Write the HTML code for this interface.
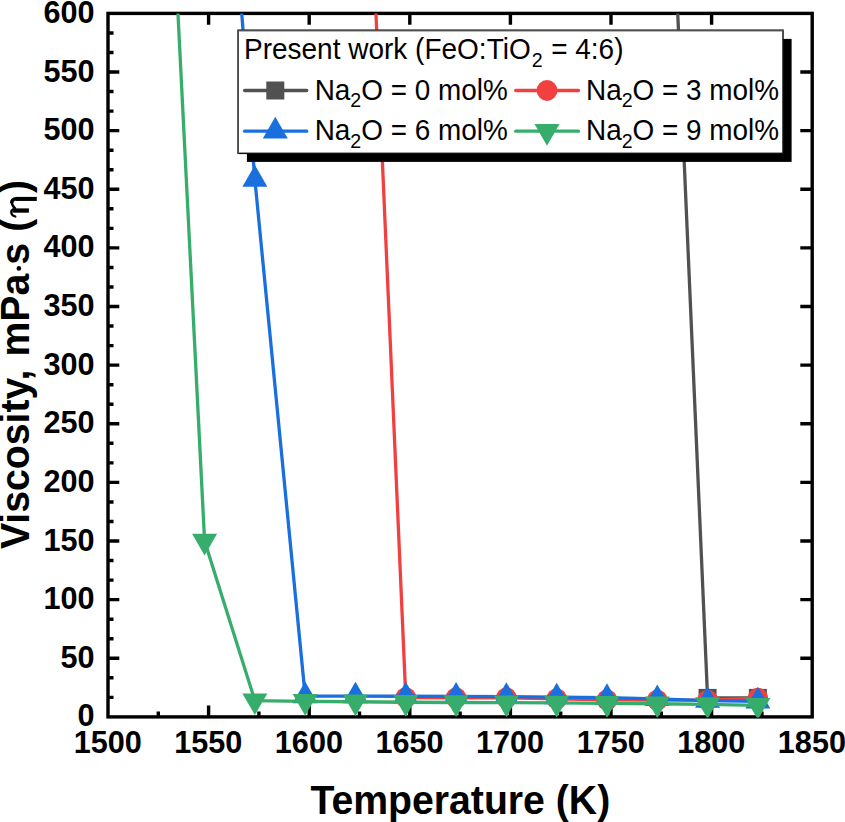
<!DOCTYPE html>
<html><head><meta charset="utf-8"><title>Viscosity vs Temperature</title>
<style>
html,body{margin:0;padding:0;background:#fff;}
body{width:845px;height:822px;overflow:hidden;}
svg{display:block;font-family:"Liberation Sans",sans-serif;}
</style></head>
<body>
<svg width="845" height="822" viewBox="0 0 845 822">
<defs><clipPath id="cp"><rect x="108.00" y="13.40" width="704.20" height="704.00"/></clipPath></defs>
<rect width="845" height="822" fill="#fff"/>
<rect x="108.00" y="13.40" width="704.20" height="703.50" fill="none" stroke="#000" stroke-width="3.40"/>
<path d="M158.30 716.90V711.40M208.60 716.90V705.60M208.60 13.40V24.70M258.90 716.90V711.40M309.20 716.90V705.60M309.20 13.40V24.70M359.50 716.90V711.40M409.80 716.90V705.60M409.80 13.40V24.70M460.10 716.90V711.40M510.40 716.90V705.60M510.40 13.40V24.70M560.70 716.90V711.40M611.00 716.90V705.60M611.00 13.40V24.70M661.30 716.90V711.40M711.60 716.90V705.60M711.60 13.40V24.70M761.90 716.90V711.40M108.00 697.36H113.50M108.00 677.82H113.50M108.00 658.27H119.30M812.20 658.27H800.30M108.00 638.73H113.50M108.00 619.19H113.50M108.00 599.65H119.30M812.20 599.65H800.30M108.00 580.11H113.50M108.00 560.57H113.50M108.00 541.02H119.30M812.20 541.02H800.30M108.00 521.48H113.50M108.00 501.94H113.50M108.00 482.40H119.30M812.20 482.40H800.30M108.00 462.86H113.50M108.00 443.32H113.50M108.00 423.77H119.30M812.20 423.77H800.30M108.00 404.23H113.50M108.00 384.69H113.50M108.00 365.15H119.30M812.20 365.15H800.30M108.00 345.61H113.50M108.00 326.07H113.50M108.00 306.52H119.30M812.20 306.52H800.30M108.00 286.98H113.50M108.00 267.44H113.50M108.00 247.90H119.30M812.20 247.90H800.30M108.00 228.36H113.50M108.00 208.82H113.50M108.00 189.27H119.30M812.20 189.27H800.30M108.00 169.73H113.50M108.00 150.19H113.50M108.00 130.65H119.30M812.20 130.65H800.30M108.00 111.11H113.50M108.00 91.57H113.50M108.00 72.02H119.30M812.20 72.02H800.30M108.00 52.48H113.50M108.00 32.94H113.50" stroke="#000" stroke-width="3.40" fill="none"/>
<g clip-path="url(#cp)">
<polyline points="757.88,697.91 707.58,697.91 657.28,-455.60" fill="none" stroke="#515151" stroke-width="3.30" stroke-linejoin="round"/>
<rect x="748.88" y="688.91" width="18.00" height="18.00" fill="#515151"/>
<rect x="698.58" y="688.91" width="18.00" height="18.00" fill="#515151"/>
<polyline points="757.88,698.26 707.58,700.13 657.28,700.13 606.98,699.78 556.68,698.84 506.38,697.91 456.08,697.79 405.78,697.67 355.48,-455.60" fill="none" stroke="#F14040" stroke-width="3.30" stroke-linejoin="round"/>
<circle cx="757.88" cy="698.26" r="10.40" fill="#F14040"/>
<circle cx="707.58" cy="700.13" r="10.40" fill="#F14040"/>
<circle cx="657.28" cy="700.13" r="10.40" fill="#F14040"/>
<circle cx="606.98" cy="699.78" r="10.40" fill="#F14040"/>
<circle cx="556.68" cy="698.84" r="10.40" fill="#F14040"/>
<circle cx="506.38" cy="697.91" r="10.40" fill="#F14040"/>
<circle cx="456.08" cy="697.79" r="10.40" fill="#F14040"/>
<circle cx="405.78" cy="697.67" r="10.40" fill="#F14040"/>
<polyline points="757.88,701.31 707.58,700.60 657.28,698.84 606.98,697.67 556.68,697.08 506.38,696.62 456.08,696.38 405.78,696.26 355.48,696.15 305.18,696.03 254.88,179.54 204.58,-455.60" fill="none" stroke="#1A6FDF" stroke-width="3.30" stroke-linejoin="round"/>
<polygon points="757.88,686.87 745.38,708.52 770.38,708.52" fill="#1A6FDF"/>
<polygon points="707.58,686.17 695.08,707.82 720.08,707.82" fill="#1A6FDF"/>
<polygon points="657.28,684.41 644.78,706.06 669.78,706.06" fill="#1A6FDF"/>
<polygon points="606.98,683.24 594.48,704.89 619.48,704.89" fill="#1A6FDF"/>
<polygon points="556.68,682.65 544.18,704.30 569.18,704.30" fill="#1A6FDF"/>
<polygon points="506.38,682.18 493.88,703.83 518.88,703.83" fill="#1A6FDF"/>
<polygon points="456.08,681.95 443.58,703.60 468.58,703.60" fill="#1A6FDF"/>
<polygon points="405.78,681.83 393.28,703.48 418.28,703.48" fill="#1A6FDF"/>
<polygon points="355.48,681.71 342.98,703.36 367.98,703.36" fill="#1A6FDF"/>
<polygon points="305.18,681.60 292.68,703.25 317.68,703.25" fill="#1A6FDF"/>
<polygon points="254.88,165.11 242.38,186.76 267.38,186.76" fill="#1A6FDF"/>
<polyline points="757.88,705.29 707.58,704.47 657.28,703.77 606.98,703.30 556.68,702.95 506.38,702.71 456.08,702.48 405.78,702.24 355.48,701.77 305.18,701.31 254.88,700.60 204.58,541.02 154.28,-455.60" fill="none" stroke="#37AD6B" stroke-width="3.30" stroke-linejoin="round"/>
<polygon points="757.88,719.73 745.38,698.08 770.38,698.08" fill="#37AD6B"/>
<polygon points="707.58,718.91 695.08,697.25 720.08,697.25" fill="#37AD6B"/>
<polygon points="657.28,718.20 644.78,696.55 669.78,696.55" fill="#37AD6B"/>
<polygon points="606.98,717.73 594.48,696.08 619.48,696.08" fill="#37AD6B"/>
<polygon points="556.68,717.38 544.18,695.73 569.18,695.73" fill="#37AD6B"/>
<polygon points="506.38,717.15 493.88,695.50 518.88,695.50" fill="#37AD6B"/>
<polygon points="456.08,716.91 443.58,695.26 468.58,695.26" fill="#37AD6B"/>
<polygon points="405.78,716.68 393.28,695.03 418.28,695.03" fill="#37AD6B"/>
<polygon points="355.48,716.21 342.98,694.56 367.98,694.56" fill="#37AD6B"/>
<polygon points="305.18,715.74 292.68,694.09 317.68,694.09" fill="#37AD6B"/>
<polygon points="254.88,715.04 242.38,693.39 267.38,693.39" fill="#37AD6B"/>
<polygon points="204.58,555.46 192.08,533.81 217.08,533.81" fill="#37AD6B"/>
</g>
<g font-size="30.6" font-weight="bold" fill="#000">
<text x="107.70" y="753.4" text-anchor="middle">1500</text>
<text x="208.30" y="753.4" text-anchor="middle">1550</text>
<text x="308.90" y="753.4" text-anchor="middle">1600</text>
<text x="409.50" y="753.4" text-anchor="middle">1650</text>
<text x="510.10" y="753.4" text-anchor="middle">1700</text>
<text x="610.70" y="753.4" text-anchor="middle">1750</text>
<text x="711.30" y="753.4" text-anchor="middle">1800</text>
<text x="811.90" y="753.4" text-anchor="middle">1850</text>
<text x="94.6" y="726.40" text-anchor="end">0</text>
<text x="94.6" y="667.77" text-anchor="end">50</text>
<text x="94.6" y="609.15" text-anchor="end">100</text>
<text x="94.6" y="550.52" text-anchor="end">150</text>
<text x="94.6" y="491.90" text-anchor="end">200</text>
<text x="94.6" y="433.27" text-anchor="end">250</text>
<text x="94.6" y="374.65" text-anchor="end">300</text>
<text x="94.6" y="316.02" text-anchor="end">350</text>
<text x="94.6" y="257.40" text-anchor="end">400</text>
<text x="94.6" y="198.77" text-anchor="end">450</text>
<text x="94.6" y="140.15" text-anchor="end">500</text>
<text x="94.6" y="81.52" text-anchor="end">550</text>
<text x="94.6" y="22.90" text-anchor="end">600</text>
</g>
<rect x="246.9" y="38.9" width="544.70" height="123.00" fill="#000"/>
<rect x="238.15" y="30.40" width="544.85" height="122.95" fill="#fff" stroke="#111" stroke-width="1.5"/>
<path d="M238.15 154.10V30.40H783.00V38.90" fill="none" stroke="#505050" stroke-width="1.6"/>
<text transform="translate(244,59.2) scale(1,1.045)" font-size="28.0">Present work (FeO:TiO<tspan font-size="19.6" dy="7" dx="1.2">2</tspan><tspan dy="-7" dx="0.6"> = 4:6)</tspan></text>
<path d="M244.6 90.50H306.7" stroke="#515151" stroke-width="3.30" stroke-linecap="round"/>
<rect x="266.30" y="81.50" width="18.00" height="18.00" fill="#515151"/>
<text transform="translate(314.70,99.60) scale(1,1.045)" font-size="27.9">Na<tspan font-size="19.6" dy="7">2</tspan><tspan dy="-7">O = 0 mol%</tspan></text>
<path d="M515.75 90.50H578.45" stroke="#F14040" stroke-width="3.30" stroke-linecap="round"/>
<circle cx="547.00" cy="90.50" r="10.40" fill="#F14040"/>
<text transform="translate(586.00,99.60) scale(1,1.045)" font-size="27.9">Na<tspan font-size="19.6" dy="7">2</tspan><tspan dy="-7">O = 3 mol%</tspan></text>
<path d="M244.6 131.20H306.7" stroke="#1A6FDF" stroke-width="3.30" stroke-linecap="round"/>
<polygon points="275.30,116.77 262.80,138.42 287.80,138.42" fill="#1A6FDF"/>
<text transform="translate(314.70,140.30) scale(1,1.045)" font-size="27.9">Na<tspan font-size="19.6" dy="7">2</tspan><tspan dy="-7">O = 6 mol%</tspan></text>
<path d="M515.75 131.20H578.45" stroke="#37AD6B" stroke-width="3.30" stroke-linecap="round"/>
<polygon points="547.00,145.63 534.50,123.98 559.50,123.98" fill="#37AD6B"/>
<text transform="translate(586.00,140.30) scale(1,1.045)" font-size="27.9">Na<tspan font-size="19.6" dy="7">2</tspan><tspan dy="-7">O = 9 mol%</tspan></text>
<text transform="translate(460.3,813.6) scale(1,1.04)" font-size="39.2" font-weight="bold" text-anchor="middle">Temperature (K)</text>
<g transform="translate(28.9,365.2) rotate(-90) scale(1,1.04)" font-size="39.2" font-weight="bold">
<text x="-183.9" y="0">Viscosity,</text>
<text x="8.6" y="0">mPa</text>
<text x="100.5" y="0">s</text>
<text x="133.5" y="0">(</text>
<text x="172.1" y="0">)</text>
</g>
<circle cx="18.9" cy="268.4" r="2.3" fill="#000"/>
<g fill="none" stroke="#000" stroke-linecap="butt" stroke-linejoin="round">
<path d="M36.8 198.92H15.6" stroke-width="4.05"/>
<path d="M16.2 198.75C13.2 198.7 11.7 200.6 11.7 202.9" stroke-width="3.5"/>
<path d="M11.75 202.3C11.8 204.6 13.2 206.6 15.6 209.2" stroke-width="2.6"/>
<path d="M28.9 210.55H12.4" stroke-width="4.3"/>
<path d="M13 209.6C11.4 210.2 11 211.6 11.3 213C11.7 214.9 13.2 216 15.4 216.6" stroke-width="2.1" stroke-linecap="round"/>
</g>
</svg>
</body></html>
